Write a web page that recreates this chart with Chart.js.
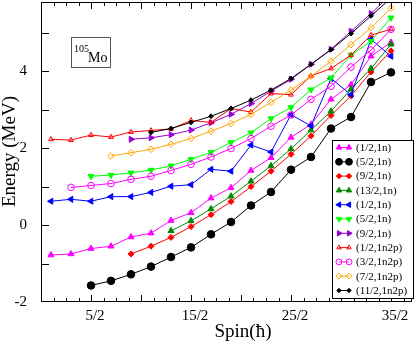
<!DOCTYPE html>
<html>
<head>
<meta charset="utf-8">
<script src="https://cdn.jsdelivr.net/npm/chart.js@4"></script>
<style>
  html, body { margin: 0; padding: 0; background: #fff; }
</style>
</head>
<body>
<canvas id="levels" width="419" height="346"></canvas>
<script>
(function () {
    // spin values (hbar) shared by every band
    var spins = [0.5, 1.5, 2.5, 3.5, 4.5, 5.5, 6.5, 7.5, 8.5, 9.5, 10.5, 11.5, 12.5, 13.5, 14.5, 15.5, 16.5, 17.5];

    var xTickValues = [2.5, 7.5, 12.5, 17.5];
    var xTickLabels = ['5/2', '15/2', '25/2', '35/2'];
    var yTickValues = [-2, 0, 2, 4];
    var yTickLabels = ['-2', '0', '2', '4'];

    var bandNames = ['(1/2,1n)', '(5/2,1n)', '(9/2,1n)', '(13/2,1n)', '(1/2,1n)', '(5/2,1n)', '(9/2,1n)',
        '(1/2,1n2p)', '(3/2,1n2p)', '(7/2,1n2p)', '(11/2,1n2p)'];

    // energies (MeV), null where the band has no level
    var e1n_1_2a = [-0.78, -0.75, -0.61, -0.55, -0.31, -0.21, 0.12, 0.32, 0.70, 0.97, 1.42, 1.75, 2.28, 2.62, 3.27, 3.65, 4.39, 4.75];
    var e1n_5_2a = [null, null, -1.57, -1.45, -1.28, -1.08, -0.83, -0.58, -0.24, 0.08, 0.51, 0.86, 1.44, 1.77, 2.51, 2.81, 3.72, 3.97];
    var e1n_9_2a = [null, null, null, null, -0.75, -0.55, -0.32, -0.04, 0.27, 0.61, 1.00, 1.40, 1.84, 2.32, 2.85, 3.36, 3.98, 4.53];
    var e1n_13_2 = [null, null, null, null, null, null, -0.15, 0.11, 0.42, 0.75, 1.14, 1.54, 1.98, 2.47, 2.96, 3.53, 4.07, 4.70];
    var e1n_1_2b = [0.62, 0.67, 0.62, 0.74, 0.74, 0.85, 1.01, 1.05, 1.45, 1.40, 2.08, 1.90, 2.87, 2.58, 3.81, 3.39, 4.83, 4.39];
    var e1n_5_2b = [null, null, 1.27, 1.30, 1.36, 1.43, 1.54, 1.71, 1.89, 2.15, 2.40, 2.77, 3.06, 3.52, 3.83, 4.42, 4.78, 5.39];
    var e1n_9_2b = [null, null, null, null, 2.23, 2.27, 2.35, 2.47, 2.66, 2.88, 3.16, 3.48, 3.79, 4.18, 4.57, 5.04, 5.50, 6.00];
    var e1n2p_1_2 = [2.23, 2.21, 2.34, 2.29, 2.42, 2.46, 2.50, 2.72, 2.67, 3.03, 2.94, 3.42, 3.39, 3.88, 4.07, 4.42, 4.94, 5.09];
    var e1n2p_3_2 = [null, 0.98, 1.03, 1.08, 1.19, 1.27, 1.42, 1.58, 1.77, 1.99, 2.25, 2.57, 2.86, 3.27, 3.61, 4.11, 4.55, 5.09];
    var e1n2p_7_2 = [null, null, null, 1.80, 1.88, 1.97, 2.10, 2.25, 2.44, 2.64, 2.88, 3.19, 3.51, 3.87, 4.26, 4.69, 5.13, 5.64];
    var e1n2p_11_2 = [null, null, null, null, null, 2.41, 2.51, 2.67, 2.83, 3.03, 3.25, 3.51, 3.81, 4.18, 4.56, 4.98, 5.44, 5.90];

    var bands = [e1n_1_2a, e1n_5_2a, e1n_9_2a, e1n_13_2, e1n_1_2b, e1n_5_2b, e1n_9_2b,
        e1n2p_1_2, e1n2p_3_2, e1n2p_7_2, e1n2p_11_2];

    // color, point style, rotation, radius, filled
    var styles = [
        ['#ff00ff', 'triangle', 0, 3.5, true],
        ['#000000', 'circle', 0, 3.8, true],
        ['#ff0000', 'rectRot', 0, 3, true],
        ['#008a00', 'triangle', 0, 3.5, true],
        ['#0000ff', 'triangle', 270, 3.5, true],
        ['#00ff00', 'triangle', 180, 3.5, true],
        ['#9400d3', 'triangle', 90, 3.5, true],
        ['#ff0000', 'triangle', 0, 2.8, false],
        ['#ff00ff', 'circle', 0, 3.3, false],
        ['#ffa500', 'rectRot', 0, 3.3, false],
        ['#000000', 'rectRot', 0, 2.4, true]
    ];

    var serif = '"Liberation Serif", "Times New Roman", serif';

    var datasets = bands.map(function (vals, i) {
        var st = styles[i];
        var pts = [];
        spins.forEach(function (s, k) {
            if (vals[k] !== null) pts.push({ x: s, y: vals[k] });
        });
        return {
            label: bandNames[i],
            data: pts,
            borderColor: st[0],
            borderWidth: 1,
            pointStyle: st[1],
            pointRotation: st[2],
            pointRadius: st[3],
            pointBorderWidth: 1,
            pointBorderColor: st[0],
            pointBackgroundColor: st[4] ? st[0] : 'rgba(0,0,0,0)',
            tension: 0,
            fill: false,
            clip: 0,
            order: -i
        };
    });

    var framePlugin = {
        id: 'frame',
        afterDatasetsDraw: function (chart) {
            var ctx = chart.ctx, a = chart.chartArea;
            var xs = chart.scales.x, ys = chart.scales.y;
            ctx.save();
            ctx.strokeStyle = '#000';
            ctx.lineWidth = 1;
            ctx.strokeRect(a.left + 0.5, a.top + 0.5, a.right - a.left - 1, a.bottom - a.top - 1);

            // inward ticks on all four sides
            ctx.beginPath();
            for (var v = 0; v <= xs.max + 1e-9; v += 0.625) {
                var px = Math.round(xs.getPixelForValue(v)) + 0.5;
                var len = Math.abs(v / 2.5 - Math.round(v / 2.5)) < 1e-6 ? 7 : 4;
                ctx.moveTo(px, a.bottom);
                ctx.lineTo(px, a.bottom - len);
                ctx.moveTo(px, a.top);
                ctx.lineTo(px, a.top + len);
            }
            for (var w = -1; w <= ys.max; w += 1) {
                var py = Math.round(ys.getPixelForValue(w)) + 0.5;
                ctx.moveTo(a.left, py);
                ctx.lineTo(a.left + 8, py);
                ctx.moveTo(a.right, py);
                ctx.lineTo(a.right - 8, py);
            }
            ctx.stroke();

            // axis titles
            ctx.fillStyle = '#000';
            ctx.font = '19px ' + serif;
            ctx.textAlign = 'center';
            ctx.textBaseline = 'alphabetic';
            ctx.fillText('Spin(\u0127)', 243, 337);
            ctx.save();
            ctx.translate(14.5, 151.5);
            ctx.rotate(-Math.PI / 2);
            ctx.fillText('Energy (MeV)', 0, 0);
            ctx.restore();

            // nucleus label
            ctx.strokeStyle = '#555';
            ctx.strokeRect(71.5, 37.5, 39, 30);
            ctx.textAlign = 'left';
            ctx.font = '10px ' + serif;
            ctx.fillText('105', 74, 51.5);
            ctx.font = '14px ' + serif;
            ctx.fillText('Mo', 88, 62);
            ctx.restore();
        },
        afterDraw: function (chart) {
            var ctx = chart.ctx;
            var bx = 332, by = 140, bw = 82, bh = 159;
            ctx.save();
            ctx.fillStyle = '#fff';
            ctx.fillRect(bx, by, bw, bh);
            ctx.strokeStyle = '#000';
            ctx.lineWidth = 1;
            ctx.strokeRect(bx + 0.5, by + 0.5, bw - 1, bh - 1);
            ctx.font = '11px ' + serif;
            ctx.textAlign = 'left';
            ctx.textBaseline = 'middle';
            chart.data.datasets.forEach(function (ds, i) {
                var y = by + 7.5 + i * 14.3;
                ctx.strokeStyle = ds.borderColor;
                ctx.beginPath();
                ctx.moveTo(339, y);
                ctx.lineTo(349, y);
                ctx.stroke();
                [339, 349].forEach(function (mx) {
                    ctx.fillStyle = ds.pointBackgroundColor;
                    ctx.strokeStyle = ds.pointBorderColor;
                    if (Chart.helpers && Chart.helpers.drawPoint) {
                        Chart.helpers.drawPoint(ctx, {
                            pointStyle: ds.pointStyle,
                            rotation: ds.pointRotation,
                            radius: ds.pointRadius * 0.9,
                            borderWidth: 1
                        }, mx, y);
                    } else {
                        ctx.beginPath();
                        ctx.arc(mx, y, ds.pointRadius * 0.9, 0, Math.PI * 2);
                        ctx.fill();
                        ctx.stroke();
                    }
                });
                ctx.fillStyle = '#000';
                ctx.fillText(ds.label, 356, y + 0.5);
            });
            ctx.restore();
        }
    };

    var ctx = document.getElementById('levels').getContext('2d');
    var levelChart = new Chart(ctx, {
        type: 'line',
        data: { datasets: datasets },
        options: {
            responsive: false,
            animation: false,
            devicePixelRatio: 1,
            layout: { autoPadding: false, padding: { top: 2, right: 7, left: 0, bottom: 0 } },
            plugins: {
                legend: { display: false },
                tooltip: { enabled: false }
            },
            scales: {
                x: {
                    type: 'linear',
                    min: 0,
                    max: 18.55,
                    grid: { display: false },
                    border: { display: false },
                    afterBuildTicks: function (scale) {
                        scale.ticks = xTickValues.map(function (v) { return { value: v }; });
                    },
                    afterFit: function (scale) {
                        scale.height = 44;
                        scale.paddingLeft = 0;
                        scale.paddingRight = 0;
                    },
                    ticks: {
                        padding: -3,
                        labelOffset: 4,
                        autoSkip: false,
                        maxRotation: 0,
                        color: '#000',
                        font: { family: serif, size: 15 },
                        callback: function (value, index) { return xTickLabels[index]; }
                    }
                },
                y: {
                    type: 'linear',
                    min: -2,
                    max: 5.8,
                    grid: { display: false },
                    border: { display: false },
                    afterBuildTicks: function (scale) {
                        scale.ticks = yTickValues.map(function (v) { return { value: v }; });
                    },
                    afterFit: function (scale) {
                        scale.width = 41;
                        scale.paddingTop = 0;
                        scale.paddingBottom = 0;
                    },
                    ticks: {
                        padding: 6,
                        color: '#000',
                        font: { family: serif, size: 15 },
                        callback: function (value, index) { return yTickLabels[index]; }
                    }
                }
            }
        },
        plugins: [framePlugin]
    });
})();
</script>
</body>
</html>
